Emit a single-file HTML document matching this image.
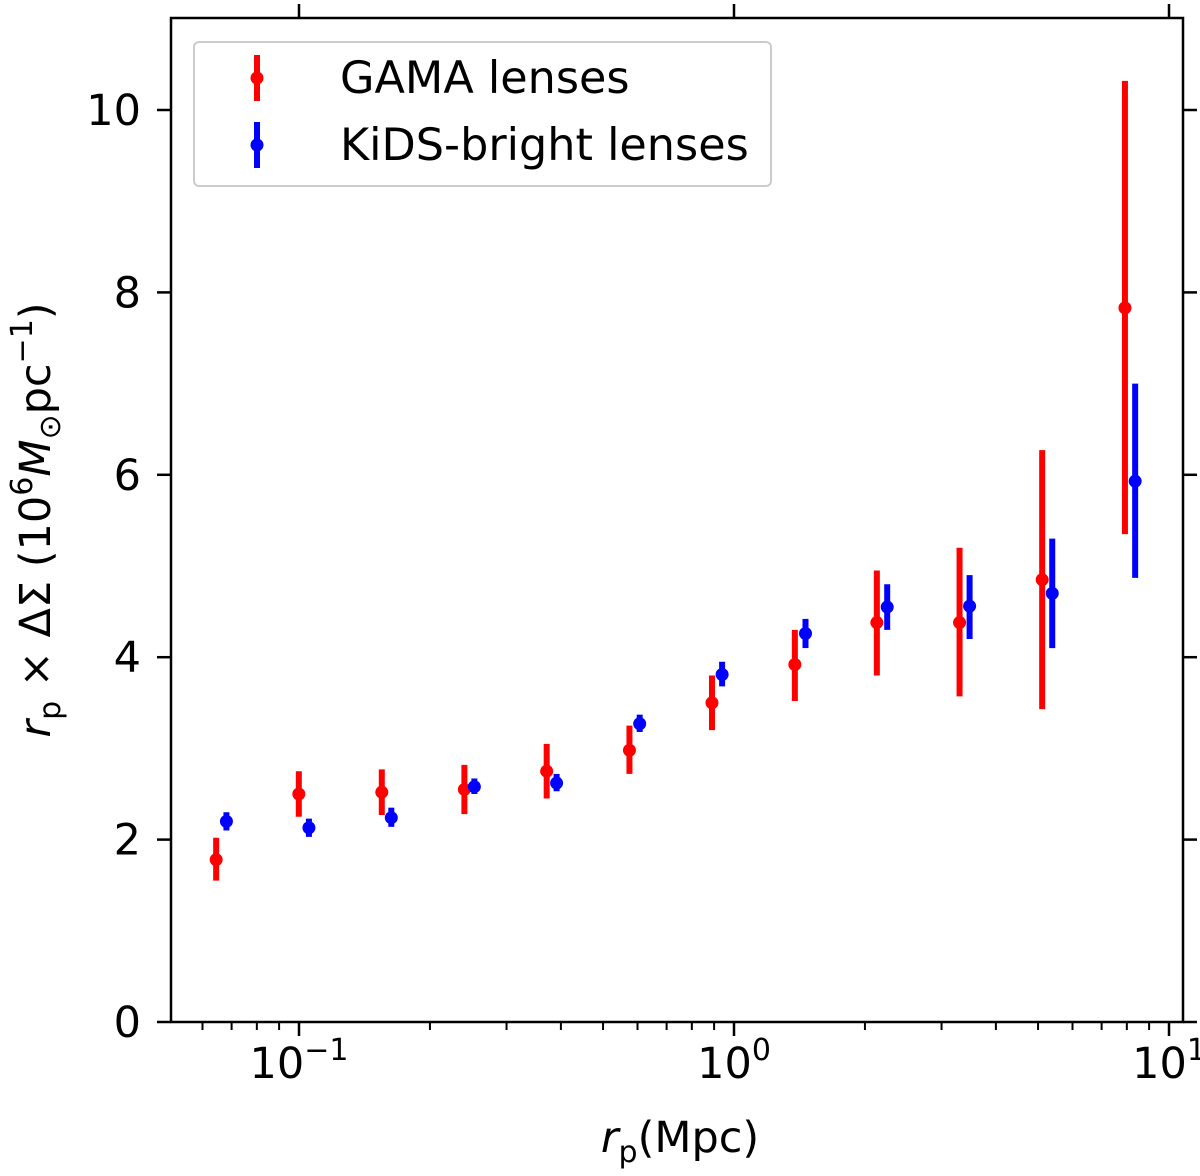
<!DOCTYPE html>
<html><head><meta charset="utf-8"><style>
body{margin:0;background:#fff}
svg text{font-family:"DejaVu Sans","Liberation Sans",sans-serif;fill:#000}
</style></head><body>
<svg id="chart" width="1200" height="1171" viewBox="0 0 1200 1171" xmlns="http://www.w3.org/2000/svg">
<g id="plot"></g>
</svg>
<script>
const gamaX=[0.0645,0.0999,0.155,0.240,0.371,0.575,0.890,1.38,2.13,3.30,5.11,7.92];
const gamaY=[1.78,2.50,2.52,2.55,2.75,2.98,3.50,3.92,4.38,4.38,4.85,7.83];
const gamaLo=[1.55,2.25,2.27,2.28,2.45,2.72,3.20,3.52,3.80,3.57,3.43,5.35];
const gamaHi=[2.02,2.75,2.77,2.82,3.05,3.25,3.80,4.30,4.95,5.20,6.27,10.32];
const kidsX=[0.0681,0.1054,0.163,0.253,0.391,0.607,0.939,1.46,2.25,3.48,5.39,8.36];
const kidsY=[2.20,2.13,2.24,2.58,2.62,3.27,3.81,4.26,4.55,4.56,4.70,5.93];
const kidsLo=[2.10,2.03,2.14,2.50,2.53,3.18,3.68,4.10,4.30,4.20,4.10,4.87];
const kidsHi=[2.30,2.23,2.35,2.67,2.72,3.37,3.95,4.42,4.80,4.90,5.30,7.00];
const yTicks=[0,2,4,6,8,10];
const xMajor=[-1,0,1];

const L=171,R=1183,T=18,B=1022;
const xs=v=>734+435*Math.log10(v);
const ys=v=>1022-91.2*v;
const NS="http://www.w3.org/2000/svg";
const g=document.getElementById('plot');
function mk(t,a){const e=document.createElementNS(NS,t);for(const k in a)e.setAttribute(k,a[k]);g.appendChild(e);return e;}

for(const v of yTicks){
  const y=ys(v);
  let t=mk('line',{x1:L-14,x2:L,y1:y,y2:y,stroke:'#000','stroke-width':2.5});
  
  
  t=mk('line',{x1:R,x2:R+14,y1:y,y2:y,stroke:'#000','stroke-width':2.5});
  
  
  const tx=mk('text',{x:L-30,y:y+15,'font-size':43,'text-anchor':'end'});
  tx.textContent=v;
  
  
}
for(let d=-2;d<=1;d++){
  for(let m=1;m<10;m++){
    const v=m*Math.pow(10,d);const x=xs(v);
    if(x<L||x>R)continue;
    const maj=m===1;
    const t=mk('line',{x1:x,x2:x,y1:B,y2:B+(maj?14:8),stroke:'#000','stroke-width':maj?2.5:2});
    
    
  }
}
for(const e of xMajor){
  const x=xs(Math.pow(10,e));
  const t=mk('line',{x1:x,x2:x,y1:T-14,y2:T,stroke:'#000','stroke-width':2.5});
  
  
  const tx=mk('text',{x:x,y:1078,'font-size':43,'text-anchor':'middle'});
  tx.innerHTML='10<tspan dy="-18" font-size="30">'+(e<0?'−'+(-e):e)+'</tspan>';
  
  
}

function series(X,Y,Lo,Hi,c,name){
  for(let i=0;i<X.length;i++){
    const x=xs(X[i]);
    const l=mk('line',{x1:x,x2:x,y1:ys(Lo[i]),y2:ys(Hi[i]),stroke:c,'stroke-width':6});
    
    
    const p=mk('circle',{cx:x,cy:ys(Y[i]),r:6.5,fill:c});
    
    
  }
}
series(gamaX,gamaY,gamaLo,gamaHi,'#ff0000','gama');
series(kidsX,kidsY,kidsLo,kidsHi,'#0000ff','kids');

const fr=mk('rect',{x:L,y:T,width:R-L,height:B-T,fill:'none',stroke:'#000','stroke-width':2.5});



const lg=mk('rect',{x:194,y:42,width:577,height:144,rx:5,fill:'#fff','fill-opacity':0.8,stroke:'#ccc','stroke-width':2});


const ents=[['#ff0000','GAMA lenses',78,'legend-entry-gama'],['#0000ff','KiDS-bright lenses',145,'legend-entry-kids']];
for(const [c,txt,y,n] of ents){
  const l=mk('line',{x1:257,x2:257,y1:y-23,y2:y+23,stroke:c,'stroke-width':6});
  
  
  const p=mk('circle',{cx:257,cy:y,r:6.5,fill:c});
  
  
  const t=mk('text',{x:340,y:y+15,'font-size':44.5});
  t.textContent=txt;
  
  
}

const xl=mk('text',{x:680,y:1152,'font-size':43,'text-anchor':'middle'});
xl.innerHTML='<tspan font-style="italic">r</tspan><tspan dy="10" font-size="30">p</tspan><tspan dy="-10">(Mpc)</tspan>';


const yl=mk('text',{x:0,y:0,'font-size':43,'text-anchor':'middle',transform:'translate(50,520) rotate(-90)'});
yl.innerHTML='<tspan font-style="italic">r</tspan><tspan dy="10" font-size="30">p</tspan><tspan dy="-10"> × ΔΣ</tspan><tspan> (10</tspan><tspan dy="-18" font-size="30">6</tspan><tspan dy="18" font-style="italic">M</tspan><tspan dy="10" font-size="30">⊙</tspan><tspan dy="-10">pc</tspan><tspan dy="-18" font-size="30">−1</tspan><tspan dy="18">)</tspan>';


</script>
</body></html>
